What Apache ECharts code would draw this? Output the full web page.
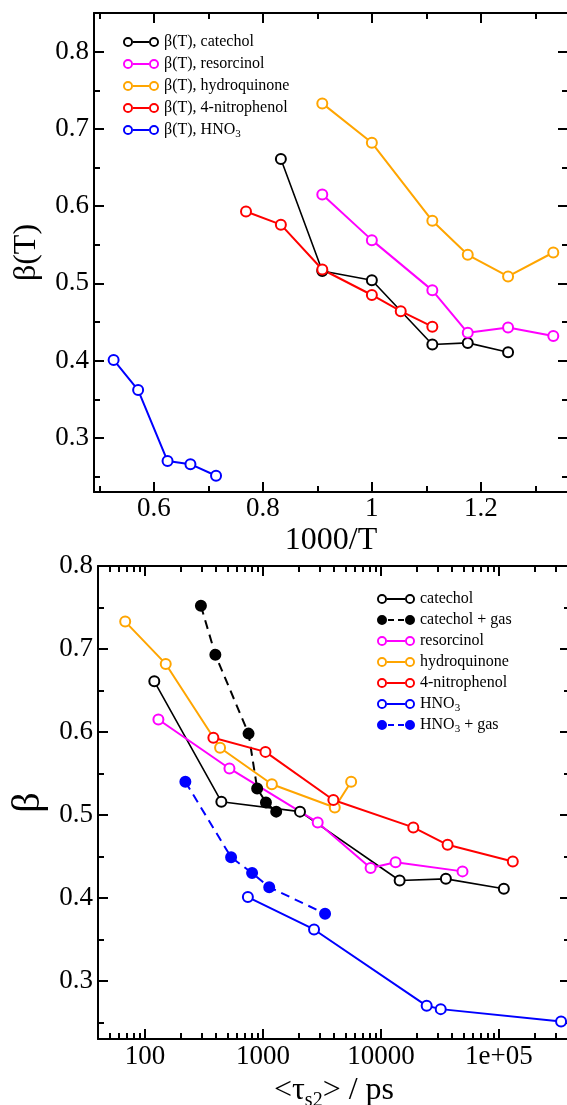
<!DOCTYPE html>
<html>
<head>
<meta charset="utf-8">
<script src="https://cdn.jsdelivr.net/npm/echarts@6/dist/echarts.min.js"></script>
<style>
html, body { margin: 0; padding: 0; background: #fff; }
#chart { width: 567px; height: 1105px; }
</style>
</head>
<body>
<div id="chart"></div>
<script>
// ---- top panel: beta(T) against 1000/T
const invT_catechol = [0.833, 0.909, 1.0, 1.111, 1.176, 1.25]
const invT_resorcinol = [0.909, 1.0, 1.111, 1.176, 1.25, 1.333]
const invT_hydroquinone = [0.909, 1.0, 1.111, 1.176, 1.25, 1.333]
const invT_nitrophenol = [0.769, 0.833, 0.909, 1.0, 1.053, 1.111]
const invT_hno3 = [0.526, 0.571, 0.625, 0.667, 0.714]

const beta_catechol = [0.661, 0.516, 0.504, 0.421, 0.423, 0.411]
const beta_resorcinol = [0.615, 0.556, 0.491, 0.436, 0.443, 0.432]
const beta_hydroquinone = [0.733, 0.682, 0.581, 0.537, 0.509, 0.540]
const beta_nitrophenol = [0.593, 0.576, 0.518, 0.485, 0.464, 0.444]
const beta_hno3 = [0.401, 0.362, 0.270, 0.266, 0.251]

// ---- bottom panel: beta against <tau_s2> (ps)
const tau_catechol = [120, 444, 2060, 14400, 35500, 110000]
const tau_catechol_gas = [298, 395, 755, 893, 1060, 1295]
const beta_catechol_gas = [0.752, 0.693, 0.598, 0.532, 0.515, 0.504]
const tau_resorcinol = [130, 520, 2910, 8170, 13300, 49100]
const tau_hydroquinone = [68, 150, 433, 1190, 4060, 5590]
const tau_nitrophenol = [380, 1050, 3950, 18800, 36700, 131000]
const tau_hno3 = [745, 2710, 24400, 32100, 336000]
const tau_hno3_gas = [220, 537, 809, 1130, 3360]
const beta_hno3_gas = [0.540, 0.449, 0.430, 0.413, 0.381]

// ---- ticks
const invTTicks = [0.6, 0.8, 1.0, 1.2]
const invTLabels = ['0.6', '0.8', '1', '1.2']
const invTMinorTicks = [0.5, 0.7, 0.9, 1.1, 1.3]
const betaTicks = [0.3, 0.4, 0.5, 0.6, 0.7, 0.8]
const betaLabels = ['0.3', '0.4', '0.5', '0.6', '0.7', '0.8']
const betaMinorTicks = [0.25, 0.35, 0.45, 0.55, 0.65, 0.75]
const tauTicks = [100, 1000, 10000, 100000]
const tauLabels = ['100', '1000', '10000', '1e+05']
const tauMinorTicks = [50, 60, 70, 80, 90, 200, 300, 400, 500, 600, 700, 800, 900,
  2000, 3000, 4000, 5000, 6000, 7000, 8000, 9000,
  20000, 30000, 40000, 50000, 60000, 70000, 80000, 90000, 200000, 300000]

const FONT = 'Liberation Serif'
const BLACK = '#000000'
const MAGENTA = '#ff00ff'
const ORANGE = '#ffa500'
const RED = '#ff0000'
const BLUE = '#0000ff'

const SUB_RICH = { sub: { fontFamily: FONT, fontSize: 11, lineHeight: 11, verticalAlign: 'bottom', color: '#000' } }

function labelFor(ticks, labels) {
  return (v) => {
    const i = ticks.findIndex((t) => Math.abs(t - v) <= Math.abs(t) * 1e-6)
    return i < 0 ? '' : labels[i]
  }
}

function axis(o) {
  return {
    type: o.type || 'value',
    gridIndex: o.grid,
    position: o.position,
    min: o.min,
    max: o.max,
    name: o.name || '',
    nameLocation: 'middle',
    nameGap: o.nameGap || 0,
    nameTextStyle: Object.assign({ fontFamily: FONT, fontSize: 32, color: '#000', lineHeight: 36 }, o.nameStyle || {}),
    axisLine: { show: !!o.line, onZero: false, lineStyle: { color: '#000', width: 2 } },
    axisTick: { show: true, inside: true, length: o.tickLen, customValues: o.ticks, lineStyle: { color: '#000', width: 2 } },
    axisLabel: o.labels
      ? { show: true, customValues: o.ticks, formatter: o.labels, margin: o.margin, fontFamily: FONT, fontSize: 27, color: '#000' }
      : { show: false },
    splitLine: { show: false },
    minorTick: { show: false },
    silent: true,
  }
}

// two overlapping grids per panel: one carries the frame, major ticks and labels, the other the minor ticks
const topRect = { left: 94, top: 13, width: 474, height: 479 }
const botRect = { left: 98, top: 566, width: 472, height: 473 }
const grids = [topRect, topRect, botRect, botRect].map((r) =>
  Object.assign({ containLabel: false, outerBoundsMode: 'none' }, r))

const xAxes = [
  axis({ grid: 0, position: 'bottom', min: 0.49, max: 1.36, line: true, ticks: invTTicks, tickLen: 10,
    labels: labelFor(invTTicks, invTLabels), margin: 3, name: '1000/T', nameGap: 25 }),
  axis({ grid: 0, position: 'top', min: 0.49, max: 1.36, line: true, ticks: invTTicks, tickLen: 10 }),
  axis({ grid: 1, position: 'bottom', min: 0.49, max: 1.36, ticks: invTMinorTicks, tickLen: 6 }),
  axis({ grid: 1, position: 'top', min: 0.49, max: 1.36, ticks: invTMinorTicks, tickLen: 6 }),
  axis({ grid: 2, type: 'log', position: 'bottom', min: 40, max: 400000, line: true, ticks: tauTicks, tickLen: 10,
    labels: labelFor(tauTicks, tauLabels), margin: 4, name: '<τ{sub|s2}> / ps', nameGap: 24,
    nameStyle: { lineHeight: 40, rich: { sub: { fontFamily: FONT, fontSize: 20, lineHeight: 16, verticalAlign: 'bottom', color: '#000' } } } }),
  axis({ grid: 2, type: 'log', position: 'top', min: 40, max: 400000, line: true, ticks: tauTicks, tickLen: 10 }),
  axis({ grid: 3, type: 'log', position: 'bottom', min: 40, max: 400000, ticks: tauMinorTicks, tickLen: 6 }),
  axis({ grid: 3, type: 'log', position: 'top', min: 40, max: 400000, ticks: tauMinorTicks, tickLen: 6 }),
]

const yAxes = [
  axis({ grid: 0, position: 'left', min: 0.23, max: 0.85, line: true, ticks: betaTicks, tickLen: 10,
    labels: labelFor(betaTicks, betaLabels), margin: 5, name: 'β(T)', nameGap: 46 }),
  axis({ grid: 0, position: 'right', min: 0.23, max: 0.85, line: true, ticks: betaTicks, tickLen: 10 }),
  axis({ grid: 1, position: 'left', min: 0.23, max: 0.85, ticks: betaMinorTicks, tickLen: 6 }),
  axis({ grid: 1, position: 'right', min: 0.23, max: 0.85, ticks: betaMinorTicks, tickLen: 6 }),
  axis({ grid: 2, position: 'left', min: 0.23, max: 0.8, line: true, ticks: betaTicks, tickLen: 10,
    labels: labelFor(betaTicks, betaLabels), margin: 5, name: 'β', nameGap: 50, nameStyle: { fontSize: 40, lineHeight: 40 } }),
  axis({ grid: 2, position: 'right', min: 0.23, max: 0.8, line: true, ticks: betaTicks, tickLen: 10 }),
  axis({ grid: 3, position: 'left', min: 0.23, max: 0.8, ticks: betaMinorTicks, tickLen: 6 }),
  axis({ grid: 3, position: 'right', min: 0.23, max: 0.8, ticks: betaMinorTicks, tickLen: 6 }),
]

function pairs(xs, ys) {
  return xs.map((x, i) => [x, ys[i]])
}

function line(name, xs, ys, color, axisIndex, opts) {
  opts = opts || {}
  return {
    name,
    type: 'line',
    xAxisIndex: axisIndex,
    yAxisIndex: axisIndex,
    data: pairs(xs, ys),
    symbol: opts.filled ? 'circle' : 'emptyCircle',
    symbolSize: 10,
    showSymbol: true,
    showAllSymbol: true,
    itemStyle: { color, borderColor: color, borderWidth: 2 },
    lineStyle: { color, width: opts.width || 2, type: opts.dashed ? [9, 6] : 'solid' },
    emphasis: { disabled: true },
    silent: true,
  }
}

const series = [
  line('β(T), catechol', invT_catechol, beta_catechol, BLACK, 0, { width: 1.6 }),
  line('β(T), resorcinol', invT_resorcinol, beta_resorcinol, MAGENTA, 0),
  line('β(T), hydroquinone', invT_hydroquinone, beta_hydroquinone, ORANGE, 0),
  line('β(T), 4-nitrophenol', invT_nitrophenol, beta_nitrophenol, RED, 0),
  line('β(T), HNO3', invT_hno3, beta_hno3, BLUE, 0),

  line('catechol', tau_catechol, beta_catechol, BLACK, 4, { width: 1.6 }),
  line('catechol + gas', tau_catechol_gas, beta_catechol_gas, BLACK, 4, { filled: true, dashed: true }),
  line('resorcinol', tau_resorcinol, beta_resorcinol, MAGENTA, 4),
  line('hydroquinone', tau_hydroquinone, beta_hydroquinone, ORANGE, 4),
  line('4-nitrophenol', tau_nitrophenol, beta_nitrophenol, RED, 4),
  line('HNO3', tau_hno3, beta_hno3, BLUE, 4),
  line('HNO3 + gas', tau_hno3_gas, beta_hno3_gas, BLUE, 4, { filled: true, dashed: true }),
]

// legend glyphs in the "o—o" style: two rings joined by a bar
function ring(cx) {
  return `M${cx - 5} 5A5 5 0 1 1 ${cx + 5} 5A5 5 0 1 1 ${cx - 5} 5Z` +
    `M${cx - 3.1} 5A3.1 3.1 0 1 0 ${cx + 3.1} 5A3.1 3.1 0 1 0 ${cx - 3.1} 5Z`
}
function disc(cx) {
  return `M${cx - 5} 5A5 5 0 1 1 ${cx + 5} 5A5 5 0 1 1 ${cx - 5} 5Z`
}
function bar(x0, x1) {
  return `M${x0} 4.1L${x1} 4.1L${x1} 5.9L${x0} 5.9Z`
}
const iconTop = 'path://' + ring(5) + bar(10, 26) + ring(31)
const iconBot = 'path://' + ring(5) + bar(10, 28) + ring(33)
const iconGas = 'path://' + disc(5) + bar(11, 17) + bar(21, 27) + disc(33)

function subFormatter(name) {
  return name.replace('HNO3', 'HNO{sub|3}')
}

const legendBase = {
  orient: 'vertical',
  padding: 0,
  itemHeight: 10,
  selectedMode: false,
  itemStyle: { borderWidth: 0 },
  formatter: subFormatter,
  textStyle: { fontFamily: FONT, fontSize: 16, color: '#000', lineHeight: 20, rich: SUB_RICH },
}

const legends = [
  Object.assign({}, legendBase, {
    left: 123, top: 32, itemWidth: 36, itemGap: 2, icon: iconTop,
    data: series.slice(0, 5).map((s) => s.name),
  }),
  Object.assign({}, legendBase, {
    left: 377, top: 589, itemWidth: 38, itemGap: 1, icon: iconBot,
    data: series.slice(5).map((s) => (s.name.indexOf('gas') >= 0 ? { name: s.name, icon: iconGas } : s.name)),
  }),
]

const chart = echarts.init(document.getElementById('chart'), null, { renderer: 'canvas' })
chart.setOption({
  animation: false,
  backgroundColor: '#fff',
  textStyle: { fontFamily: FONT },
  grid: grids,
  xAxis: xAxes,
  yAxis: yAxes,
  legend: legends,
  series,
})
</script>
</body>
</html>
